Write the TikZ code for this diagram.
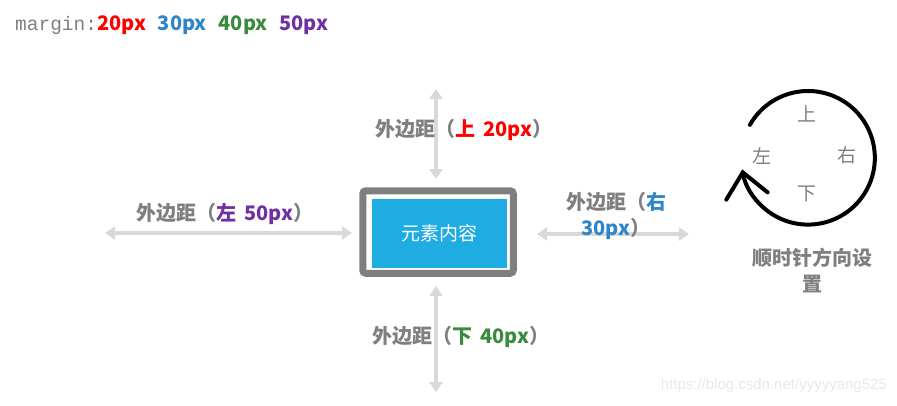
\documentclass[tikz,border=0pt]{standalone}
\usepackage{fontspec}
\setmainfont{Liberation Sans}
\setmonofont{Liberation Mono}
\newfontfamily\cjk{Noto Sans CJK SC}
\usetikzlibrary{arrows.meta, positioning}
\definecolor{txtgray}{HTML}{7F7F7F}
\definecolor{arrgray}{HTML}{D9D9D9}
\definecolor{mred}{HTML}{FF0000}
\definecolor{mblue}{HTML}{2E86C9}
\definecolor{mgreen}{HTML}{3B8B3F}
\definecolor{mpurple}{HTML}{7030A0}
\definecolor{boxblue}{HTML}{1EACE2}
\definecolor{markgray}{HTML}{E8E8E8}
\tikzstyle{frame}    = [rectangle, rounded corners=3pt, draw=txtgray, line width=7pt, fill=white, minimum width=150.5pt, minimum height=82.5pt]
\tikzstyle{content}  = [rectangle, fill=boxblue, minimum width=135pt, minimum height=69pt, text=white, font=\cjk\fontsize{19}{22}\selectfont]
\tikzstyle{mlabel}   = [inner sep=0pt, text=txtgray, font=\cjk\bfseries\fontsize{20}{26}\selectfont]
\tikzstyle{dirtext}  = [inner sep=0pt, text=txtgray, font=\cjk\fontsize{19}{22}\selectfont]
\tikzstyle{marrow}   = [draw=arrgray, line width=4pt, {Triangle[length=10pt,width=13pt]}-{Triangle[length=10pt,width=13pt]}]
\tikzstyle{turn}     = [draw=black, line width=4pt, line cap=round, -{Straight Barb[length=24pt,width=42pt,line cap=round]}]

\begin{document}
\begin{tikzpicture}[x=1pt,y=-1pt]
    \useasboundingbox (0,0) rectangle (897,405);

    \node (title) [anchor=west, inner sep=0pt] at (15,25)
        {{\ttfamily\fontsize{19.5}{22}\selectfont\color{txtgray}margin:}{\cjk\bfseries\fontsize{20}{22}\selectfont\color{mred}20px\hspace{12pt}\color{mblue}30px\hspace{12pt}\color{mgreen}40px\hspace{12pt}\color{mpurple}50px}};

    % the element box
    \node (frame)   [frame]   at (438,232) {};
    \node (content) [content] at (439,233) {元素内容};

    % arrow end points
    \coordinate (topa)    at (436,89);
    \coordinate (topb)    at (436,179);
    \coordinate (bota)    at (436,286);
    \coordinate (botb)    at (436,392);
    \coordinate (lefta)   at (105,233);
    \coordinate (leftb)   at (352,233);
    \coordinate (righta)  at (537,234);
    \coordinate (rightb)  at (689,234);

    \draw [marrow] (topa) -- (topb);
    \draw [marrow] (bota) -- (botb);
    \draw [marrow] (lefta) -- (leftb);
    \draw [marrow] (righta) -- (rightb);

    \node (toplabel)   [mlabel] at (464,130) {外边距（\textcolor{mred}{上\hspace{8pt}20px}）};
    \node (botlabel)   [mlabel] at (461,337) {外边距（\textcolor{mgreen}{下\hspace{8pt}40px}）};
    \node (leftlabel)  [mlabel] at (225,214) {外边距（\textcolor{mpurple}{左\hspace{8pt}50px}）};
    \node (rightlabel) [mlabel, align=center] at (616,216) {外边距（\textcolor{mblue}{右}\\\textcolor{mblue}{30px}）};

    % clockwise order
    \coordinate (turnstart) at (749.9,124.9);
    \draw [turn] (turnstart) arc [start angle=-150.5, end angle=170, radius=66.8];
    \node (up)    [dirtext] at (807,114) {上};
    \node (right) [dirtext] at (847,155) {右};
    \node (left)  [dirtext] at (762,156) {左};
    \node (down)  [dirtext] at (807,194) {下};
    \node (order) [mlabel, align=center] at (812,270) {顺时针方向设\\置};

    \node (mark) [inner sep=0pt, anchor=east, text=markgray, font=\fontsize{15}{18}\selectfont] at (887,386) {https://blog.csdn.net/yyyyyang525};

\end{tikzpicture}
\end{document}
